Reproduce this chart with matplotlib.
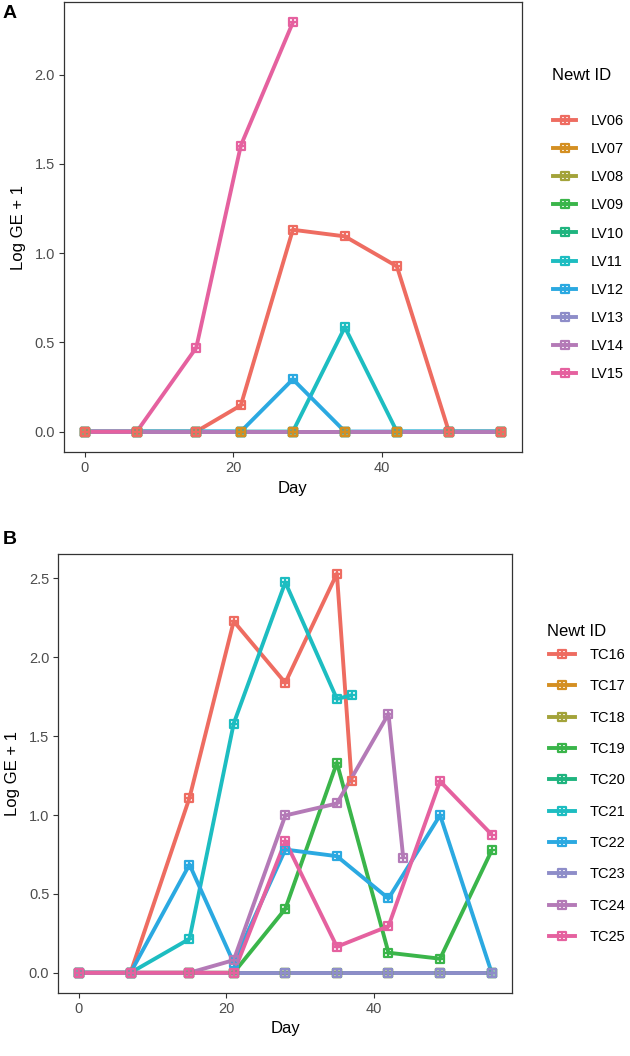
import matplotlib
matplotlib.use("Agg")
import matplotlib.pyplot as plt
from matplotlib.path import Path
import numpy as np

plt.rcParams['font.family'] = ['Liberation Sans', 'DejaVu Sans']

# ---------------- Data ----------------
ids_A = ["LV06", "LV07", "LV08", "LV09", "LV10", "LV11", "LV12", "LV13", "LV14", "LV15"]
days_full = [0, 7, 15, 21, 28, 35, 42, 49, 56]
days_LV15 = [0, 7, 15, 21, 28]

LV06 = [0, 0, 0, 0.147, 1.131, 1.094, 0.926, 0, 0]
LV07 = [0, 0, 0, 0, 0, 0, 0, 0, 0]
LV08 = [0, 0, 0, 0, 0, 0, 0, 0, 0]
LV09 = [0, 0, 0, 0, 0, 0, 0, 0, 0]
LV10 = [0, 0, 0, 0, 0, 0, 0, 0, 0]
LV11 = [0, 0, 0, 0, 0, 0.585, 0, 0, 0]
LV12 = [0, 0, 0, 0, 0.293, 0, 0, 0, 0]
LV13 = [0, 0, 0, 0, 0, 0, 0, 0, 0]
LV14 = [0, 0, 0, 0, 0, 0, 0, 0, 0]
LV15 = [0, 0, 0.470, 1.603, 2.293]

ids_B = ["TC16", "TC17", "TC18", "TC19", "TC20", "TC21", "TC22", "TC23", "TC24", "TC25"]
days_TC16 = [0, 7, 15, 21, 28, 35, 37]
days_TC21 = [0, 7, 15, 21, 28, 35, 37]
days_TC24 = [0, 7, 15, 21, 28, 35, 42, 44]

TC16 = [0, 0, 1.109, 2.228, 1.838, 2.530, 1.214]
TC17 = [0, 0, 0, 0, 0, 0, 0, 0, 0]
TC18 = [0, 0, 0, 0, 0, 0, 0, 0, 0]
TC19 = [0, 0, 0, 0, 0.405, 1.331, 0.127, 0.089, 0.775]
TC20 = [0, 0, 0, 0, 0, 0, 0, 0, 0]
TC21 = [0, 0, 0.215, 1.580, 2.475, 1.736, 1.759]
TC22 = [0, 0, 0.686, 0.063, 0.781, 0.739, 0.471, 0.999, 0]
TC23 = [0, 0, 0, 0, 0, 0, 0, 0, 0]
TC24 = [0, 0, 0, 0.080, 0.997, 1.073, 1.641, 0.729]
TC25 = [0, 0, 0, 0, 0.834, 0.165, 0.295, 1.214, 0.876]

series_A = [(days_full, LV06), (days_full, LV07), (days_full, LV08), (days_full, LV09),
            (days_full, LV10), (days_full, LV11), (days_full, LV12), (days_full, LV13),
            (days_full, LV14), (days_LV15, LV15)]
series_B = [(days_TC16, TC16), (days_full, TC17), (days_full, TC18), (days_full, TC19),
            (days_full, TC20), (days_TC21, TC21), (days_full, TC22), (days_full, TC23),
            (days_TC24, TC24), (days_full, TC25)]

colors = ["#EE6C61", "#D48F22", "#A3A33A", "#3AB54A", "#1FB47F",
          "#1DBDC1", "#2BA9E1", "#8E8DC9", "#B47AB7", "#E5619F"]

xticks = [0, 20, 40]
yticks_A = [0.0, 0.5, 1.0, 1.5, 2.0]
yticks_B = [0.0, 0.5, 1.0, 1.5, 2.0, 2.5]

# ---------------- Marker: square with plus ----------------
verts = [(-1, -1), (1, -1), (1, 1), (-1, 1), (-1, -1),
         (0, -1), (0, 1), (-1, 0), (1, 0)]
codes = [Path.MOVETO, Path.LINETO, Path.LINETO, Path.LINETO, Path.CLOSEPOLY,
         Path.MOVETO, Path.LINETO, Path.MOVETO, Path.LINETO]
boxplus = Path(verts, codes)

W, H = 630, 1056
fig = plt.figure(figsize=(W / 100, H / 100), dpi=100)

def panel(rect, series, ids, yticks, point_order, title_xy, leg_xy, labelspacing, handlelength):
    ax = fig.add_axes(rect)
    for (d, v), c in zip(series, colors):
        ax.plot(d, v, color=c, lw=2.8, solid_capstyle='butt', zorder=2)
    for i in point_order:
        d, v = series[i]
        ax.plot(d, v, ls='none', marker=boxplus, ms=6.2, mew=1.6, mfc='none',
                mec=colors[i], zorder=3)
    ymax = max(max(v) for _, v in series)
    ax.set_xlim(-2.8, 58.8)
    ax.set_ylim(-0.05 * ymax, ymax * 1.05)
    ax.set_xticks(xticks)
    ax.set_yticks(yticks)
    ax.set_yticklabels([f"{t:.1f}" for t in yticks])
    ax.tick_params(direction='out', length=3.5, width=0.8, color='#333333',
                   labelcolor='#4D4D4D', labelsize=10.5, pad=3)
    for s in ax.spines.values():
        s.set_color('#333333')
        s.set_linewidth(0.9)
    ax.set_xlabel("Day", fontsize=12, color='black', labelpad=4)
    ax.set_ylabel("Log GE + 1", fontsize=12, color='black', labelpad=6)
    handles = []
    for c in colors:
        h, = ax.plot([], [], color=c, lw=2.8, marker=boxplus, ms=6.2, mew=1.6,
                     mfc='none', mec=c)
        handles.append(h)
    ax.legend(handles, ids, loc='upper left',
              bbox_to_anchor=(leg_xy[0] / W, 1 - leg_xy[1] / H),
              bbox_transform=fig.transFigure,
              frameon=False, fontsize=10.5, borderpad=0,
              labelspacing=labelspacing, handlelength=handlelength,
              handletextpad=1.0, borderaxespad=0)
    fig.text(title_xy[0] / W, 1 - title_xy[1] / H, "Newt ID", fontsize=12,
             ha='left', va='center')
    return ax

axA = panel([64/630, 1 - 452/1056, 457.7/630, 450/1056], series_A, ids_A, yticks_A,
            list(range(9, -1, -1)), (552, 75), (553, 114), 0.97, 1.6)
axB = panel([58.3/630, 1 - 992.7/1056, 454/630, 439/1056], series_B, ids_B, yticks_B,
            list(range(10)), (547, 632), (549, 648), 1.19, 1.8)

fig.text(3/630, 1 - 14/1056, "A", fontsize=14, fontweight='bold', va='center', ha='left')
fig.text(3/630, 1 - 540/1056, "B", fontsize=14, fontweight='bold', va='center', ha='left')

fig.savefig("out.png", dpi=100)
